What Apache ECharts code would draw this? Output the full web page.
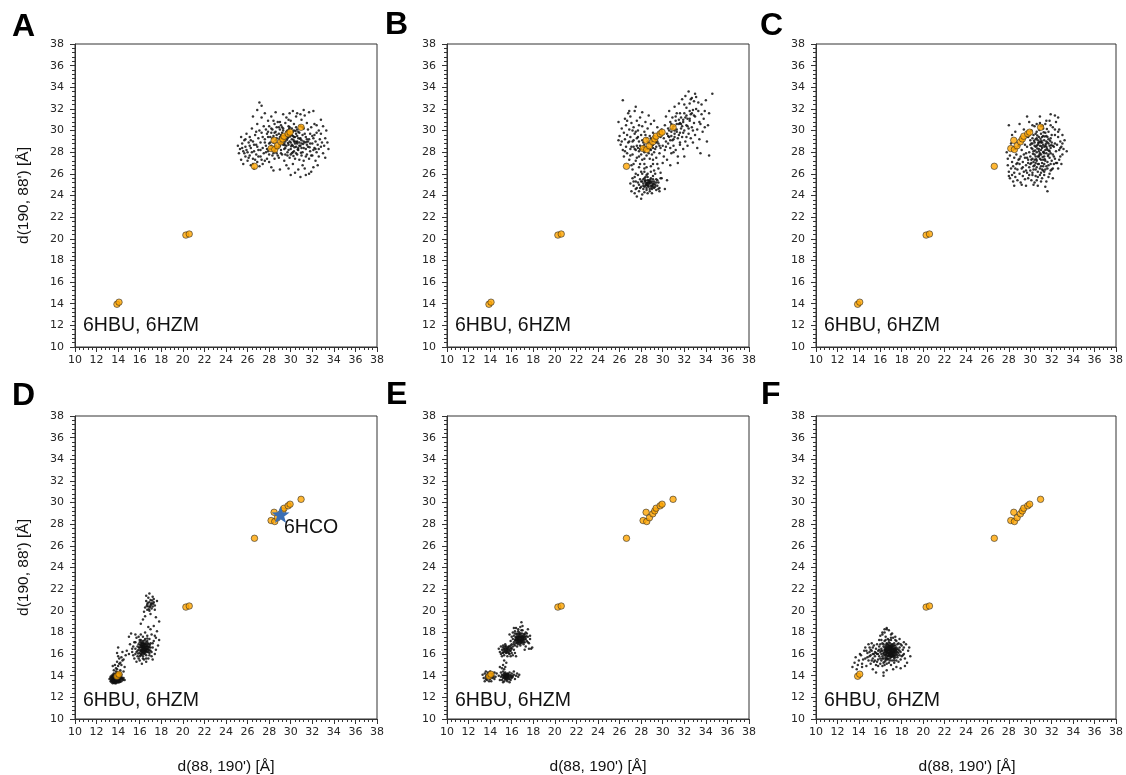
<!DOCTYPE html>
<html><head><meta charset="utf-8">
<script src="https://cdn.jsdelivr.net/npm/echarts@6/dist/echarts.min.js"></script>
<style>html,body{margin:0;padding:0;background:#fff}#c{width:1126px;height:775px}</style>
</head><body><div id="c"></div>
<script>
const panelLetters = ['A','B','C','D','E','F'];
const axisMin = 10, axisMax = 38, axisStep = 2;
const pdbLabel = '6HBU, 6HZM';
const hcoLabel = '6HCO';
const xTitle = "d(88, 190') [Å]";
const yTitle = "d(190, 88') [Å]";

// reference crystal structures (orange), identical in every panel
const refStructures = [[13.89,13.95],[14.08,14.14],[20.28,20.34],[20.59,20.44],[26.64,26.7],
  [28.18,28.34],[28.52,28.25],[28.46,29.1],[28.77,28.6],[29.08,28.96],[29.26,29.23],[29.39,29.48],
  [29.76,29.7],[29.94,29.85],[30.96,30.3]];
// 6HCO (blue star, panel D)
const hcoPoint = [[29.06,28.9]];

const cloudA = [[25.1,28.6],[25.2,27.9],[25.3,28.3],[25.4,29.4],[25.4,27.3],[25.5,28.8],[25.6,28.1],[25.6,26.9],[25.7,29.1],[25.8,27.6],[25.8,28.5],[25.9,29.7],[26.0,28.0],[26.0,27.2],[26.1,28.9],[26.2,27.7],[26.2,29.4],[26.3,26.8],[26.3,28.4],[26.4,30.2],[26.5,27.4],[26.5,29.0],[26.6,28.1],[26.6,26.5],[26.7,29.6],[26.8,27.8],[26.8,28.7],[26.9,30.6],[26.9,27.1],[27.0,29.3],[27.0,28.2],[27.1,26.7],[27.1,30.0],[27.2,27.6],[27.2,28.9],[27.3,29.8],[27.3,31.2],[27.4,26.9],[27.4,28.4],[27.5,27.9],[27.5,30.4],
[26.9,31.9],[27.1,32.6],[27.3,32.3],[27.6,31.6],[26.5,31.3],[28.2,31.3],[27.9,30.9],
[27.6,29.2],[27.7,28.6],[27.7,30.1],[27.8,27.4],[27.8,29.7],[27.9,28.1],[27.9,29.9],[28.0,28.8],[28.0,27.1],[28.0,30.4],[28.1,29.4],[28.1,28.3],[28.2,26.6],[28.2,29.8],[28.3,27.7],[28.3,30.1],[28.4,28.9],[28.4,29.5],[28.5,27.4],[28.5,30.6],
[28.6,29.9],[28.6,28.6],[28.7,30.3],[28.7,29.3],[28.7,27.9],[28.8,28.4],[28.8,30.8],[28.9,29.7],[28.9,27.5],[29.0,30.1],[29.0,28.9],[29.0,29.4],[29.1,28.2],[29.1,30.5],[29.2,29.8],[29.2,27.8],[29.3,28.7],[29.3,30.2],[29.4,29.1],[29.4,27.2],[29.5,30.7],[29.5,28.4],[29.5,29.6],[29.6,31.2],[29.6,26.8],
[29.7,29.3],[29.7,28.0],[29.7,30.0],[29.8,28.7],[29.8,30.4],[29.9,29.0],[29.9,27.5],[29.9,31.6],[30.0,29.6],[30.0,28.3],[30.0,30.9],[30.1,29.2],[30.1,27.9],[30.1,30.2],[30.2,28.6],[30.2,29.9],[30.2,26.9],[30.3,29.4],[30.3,28.1],[30.3,30.6],[30.4,27.4],[30.4,29.0],[30.5,28.5],[30.5,29.7],[30.5,31.3],
[30.6,28.8],[30.6,27.8],[30.6,30.1],[30.7,29.3],[30.7,26.4],[30.7,28.2],[30.8,29.8],[30.8,27.3],[30.9,28.6],[30.9,30.4],[30.9,25.7],[31.0,29.1],[31.0,27.7],[31.0,31.0],[31.1,28.0],[31.1,29.6],[31.2,30.2],[31.2,27.2],[31.3,28.9],[31.3,26.5],[31.4,29.4],[31.4,28.3],[31.5,30.7],[31.5,27.8],
[31.6,29.0],[31.6,28.5],[31.7,31.7],[31.7,27.4],[31.8,29.7],[31.8,28.1],[31.9,30.3],[31.9,26.2],[32.0,28.8],[32.0,27.7],[32.1,29.3],[32.1,31.8],[32.2,28.4],[32.2,30.6],[32.3,27.2],[32.3,29.0],[32.4,28.0],[32.4,29.8],[32.5,28.7],[32.6,30.0],[32.6,27.6],[32.7,29.2],[32.8,28.5],[32.9,28.9],[33.0,27.9],[33.1,28.6],[33.2,29.3],[33.4,28.9],[33.0,30.4],[32.5,26.8],
[29.2,29.2],[29.4,28.8],[29.6,29.9],[29.8,29.4],[30.0,28.9],[30.2,29.5],[30.4,28.8],[30.6,29.5],[30.8,28.9],[29.5,29.0],[29.9,29.8],[30.3,29.0],[28.9,28.5],[29.1,29.6],[30.7,28.4],[31.0,28.4],[30.1,28.7],[29.3,30.0],[28.6,29.1],[30.5,30.3],[28.2,28.6],[27.7,28.0],[28.5,28.1],[29.7,27.7],[31.2,29.0],[31.5,29.2],[29.0,30.8],[28.4,30.9],[29.8,31.0],[30.9,31.5],[31.3,31.4],
[27.6,28.9],[27.8,28.3],[27.9,29.4],[28.0,27.8],[28.1,28.9],[28.2,30.2],[28.3,29.3],[28.4,27.9],[28.5,29.8],[28.6,28.3],[28.7,29.6],[28.8,27.7],[28.9,30.3],[29.0,28.6],[29.1,27.9],[29.2,30.3],[29.3,29.5],[29.4,28.3],[29.5,27.8],[29.6,28.6],[29.7,29.6],[29.8,28.2],[29.9,30.3],[30.0,27.8],[30.1,29.6],[30.2,28.0],[30.3,30.0],[30.4,29.4],[30.5,27.9],[30.6,29.0],[30.7,29.9],[30.8,28.6],[30.9,29.3],[31.0,28.8],[31.1,30.3],[31.2,28.4],[31.3,29.7],[31.4,27.6],[31.5,28.7],[31.6,30.1],[31.7,29.2],[31.8,28.8],[31.9,27.7],[32.0,29.5],[32.1,28.2],[32.2,29.6],[32.3,28.3],[32.4,30.5],[32.6,28.3],[32.8,29.7],
[29.35,29.35],[29.65,29.15],[29.95,29.45],[30.25,29.15],[30.55,28.95],[30.85,29.25],[29.45,28.65],[29.75,28.85],[30.05,28.55],[30.35,28.45],[30.65,28.25],[29.15,28.85],[29.85,30.15],[30.45,29.95],[28.95,29.25],[31.15,28.75],[31.45,28.95],[31.75,28.45],[30.95,27.95],[30.25,27.65],
[25.5,28.4],[25.7,27.9],[25.9,28.2],[26.1,27.5],[26.3,29.1],[26.4,28.0],[26.6,28.7],[26.7,27.3],[26.9,28.5],[27.0,27.6],[27.2,28.2],[27.3,27.3],[27.4,29.4],[26.2,28.6],[25.8,29.2],[26.8,29.9],[27.6,27.2],[26.5,26.9],
[28.4,26.3],[29.0,26.4],[29.8,26.5],[30.4,26.1],[31.1,26.8],[31.7,26.0],[32.1,26.6],[30.0,25.9],[31.4,25.9],[29.3,31.5],[30.2,31.8],[31.2,31.9],[30.6,31.6],[28.6,31.7],[32.8,31.0],[33.3,30.0],[33.5,28.3],[33.2,27.5]];

const cloudB = [[25.9,30.8],[25.9,29.1],[26.0,29.5],[26.1,28.7],[26.2,30.2],[26.3,32.8],[26.3,28.2],[26.4,29.8],[26.4,27.6],[26.5,31.1],[26.5,29.2],[26.6,28.5],[26.6,30.5],[26.7,27.9],[26.7,29.6],[26.8,31.6],[26.8,28.9],[26.9,30.1],[26.9,27.3],[27.0,29.4],[27.0,28.3],[27.0,31.3],[27.1,30.7],[27.1,26.8],[27.2,29.0],[27.2,27.8],[27.3,30.3],[27.3,28.5],[27.4,31.8],[27.4,29.7],[27.5,28.2],[27.5,27.2],[27.6,30.9],[27.6,29.3],[27.7,28.4],[27.7,30.0],[27.8,27.6],[27.8,29.0],[27.9,28.3],[27.9,31.2],[28.0,29.6],[28.0,28.3],[28.1,30.4],[28.1,27.3],[28.2,28.9],[28.2,28.2],[28.3,29.9],[28.3,26.9],[28.4,28.4],[28.4,30.8],[28.5,29.3],[28.5,27.7],[28.6,28.3],[28.6,30.2],[28.7,28.8],[28.7,31.4],[28.8,27.4],[28.8,29.5],[28.9,28.2],[28.9,30.6],[29.0,29.0],[29.0,27.8],[29.1,28.4],[29.1,29.8],[29.2,30.9],[29.2,28.0],[29.3,29.2],[29.4,27.5],[29.4,28.5],[29.5,30.3],[29.6,28.8],[29.6,29.7],[29.7,27.9],[29.8,28.4],[29.9,30.1],
[27.4,28.3],[27.6,28.6],[27.9,28.6],[28.2,28.5],[28.5,28.4],[28.8,28.3],[29.1,28.7],[29.4,28.9],[28.3,28.0],[27.8,28.1],
[30.0,28.6],[30.1,29.3],[30.1,27.6],[30.2,30.5],[30.2,28.2],[30.3,29.0],[30.3,31.3],[30.4,29.7],[30.4,27.3],[30.5,28.8],[30.5,30.2],[30.6,31.8],[30.6,29.4],[30.7,28.4],[30.7,30.8],[30.8,29.9],[30.8,27.9],[30.9,31.2],[30.9,29.1],[31.0,30.4],[31.0,28.6],[31.1,32.2],[31.1,29.7],[31.2,30.9],[31.2,28.2],[31.3,30.1],[31.3,31.6],[31.4,29.3],[31.4,27.6],[31.5,30.6],[31.5,32.5],[31.6,29.8],[31.6,28.7],[31.7,31.2],[31.7,30.2],[31.8,32.9],[31.8,29.4],[31.9,30.8],[31.9,28.3],[32.0,31.6],[32.0,30.0],[32.1,33.2],[32.1,29.0],[32.2,30.5],[32.2,32.1],[32.3,31.1],[32.3,28.6],[32.4,29.7],[32.4,33.6],[32.5,30.9],[32.5,32.5],[32.6,31.5],[32.6,29.3],[32.7,33.0],[32.7,30.3],[32.8,31.9],[32.8,28.9],[32.9,30.7],[32.9,32.7],[33.0,29.6],[33.0,31.3],[33.1,33.1],[33.2,30.1],[33.2,28.4],[33.3,31.8],[33.4,29.2],[33.5,30.6],[33.6,32.4],[33.7,29.9],[33.8,31.1],[33.9,30.3],[34.0,32.8],[34.1,29.0],[34.3,27.7],[34.3,31.6],[34.6,33.4],[32.0,27.6],[31.4,27.0],[30.7,26.8],[33.5,27.9],
[30.8,29.5],[31.1,30.0],[31.3,30.6],[31.6,30.7],[31.9,31.0],[32.2,31.4],[32.5,31.8],[31.0,29.2],[31.8,30.4],[32.4,30.2],[31.5,31.0],[30.6,30.0],
[27.2,26.4],[27.5,26.0],[27.8,26.6],[28.0,26.2],[28.3,26.5],[28.6,26.0],[28.9,26.7],[29.2,26.3],[29.5,26.9],[29.8,26.1],[27.4,25.7],[29.9,25.6],[30.4,25.4],[30.2,24.6],[29.7,24.4],
[27.0,25.1],[27.1,24.4],[27.2,25.6],[27.3,24.9],[27.4,24.2],[27.5,25.3],[27.6,24.7],[27.7,25.9],[27.8,25.0],[27.8,24.4],[27.9,25.5],[28.0,23.7],[28.0,24.8],[28.1,25.3],[28.1,26.0],[28.2,24.6],[28.2,25.1],[28.3,25.6],[28.3,24.3],[28.4,24.9],[28.4,25.4],[28.5,25.0],[28.5,24.5],[28.6,25.7],[28.6,25.2],[28.7,24.8],[28.7,25.4],[28.8,24.4],[28.8,25.1],[28.9,25.6],[28.9,24.9],[29.0,25.3],[29.0,24.6],[29.1,25.0],[29.1,25.8],[29.2,24.7],[29.2,25.3],[29.3,25.0],[29.4,24.5],[29.4,25.5],[29.5,24.9],[29.6,25.2],[29.7,24.7],[29.8,25.6],[28.5,25.9],[28.3,26.2],[28.9,26.2],[29.3,26.0],[28.6,24.2],[28.1,24.1],[27.6,23.9],[29.0,24.2],[28.4,25.2],[28.8,25.3],[28.6,24.9],[28.2,24.9],[29.1,24.8],
[26.2,29.0],[26.5,28.1],[26.7,30.9],[26.9,29.0],[27.1,28.5],[27.2,30.0],[27.3,29.1],[27.5,29.9],[27.7,29.4],[27.8,30.5],[28.0,27.8],[28.1,29.1],[28.3,28.7],[28.4,29.6],[28.6,29.0],[28.7,27.9],[28.9,29.3],[29.0,28.6],[29.2,29.5],[29.3,28.3],[29.5,29.0],[29.7,28.6],[29.8,29.4],[27.0,27.7],[27.6,27.5],[28.3,27.4],[29.1,27.3],[26.9,31.8],[27.5,32.2],[28.1,31.7],
[30.3,28.5],[30.5,29.5],[30.7,29.1],[30.9,30.2],[31.1,29.4],[31.3,29.9],[31.5,29.6],[31.7,30.6],[31.9,29.8],[32.1,31.2],[32.3,30.4],[32.5,31.1],[32.7,31.6],[32.9,31.4],[33.1,32.0],[33.3,32.6],[33.4,30.8],[32.0,32.4],[31.6,31.6],[31.2,31.3],[30.8,30.6],[32.6,32.9],[33.0,33.4],[32.8,30.0],[32.2,29.4],[31.6,28.9],[31.0,28.0],[33.6,31.5],[33.9,31.8],[34.2,30.5],
[27.3,25.3],[27.5,24.6],[27.7,25.2],[27.9,24.7],[28.0,25.3],[28.2,25.5],[28.3,24.8],[28.4,25.7],[28.5,24.7],[28.6,25.4],[28.7,25.1],[28.8,24.6],[28.9,25.2],[29.0,24.9],[29.1,25.5],[29.2,25.1],[29.3,24.8],[29.4,25.2],[29.5,25.4],[29.6,24.6],[28.55,25.15],[28.75,25.25],[28.45,25.05],[28.65,24.95],[28.85,25.45],[28.35,25.35],[29.05,25.1],[28.95,24.75],
[27.9,26.9],[28.5,26.6],[29.1,26.9],[29.6,26.5],[30.0,27.0],[27.3,26.9]];

const cloudC = [[27.8,28.0],[27.9,27.4],[27.9,26.8],[28.0,30.5],[28.0,26.2],[28.1,27.7],[28.1,25.6],[28.2,26.5],[28.2,28.8],[28.3,27.1],[28.3,25.9],[28.4,26.7],[28.4,25.3],[28.5,27.5],[28.5,26.1],[28.6,28.3],[28.6,25.7],[28.7,26.9],[28.7,27.8],[28.8,25.4],[28.8,26.4],[28.9,27.3],[28.9,28.6],[29.0,26.0],[29.0,26.9],[29.1,25.2],[29.1,27.6],[29.2,26.5],[29.2,28.2],[29.3,25.8],[29.3,27.1],[29.4,26.2],[29.4,30.1],[29.5,27.5],[29.5,25.5],[29.5,28.7],[28.3,29.6],[28.6,29.9],[29.0,30.6],[28.0,25.8],[28.5,24.9],[29.2,25.0],[29.6,24.9],[29.7,31.3],[29.9,30.8],
[29.6,26.8],[29.6,27.9],[29.7,26.1],[29.7,28.5],[29.8,27.3],[29.8,29.4],[29.8,25.6],[29.9,26.6],[29.9,28.0],[30.0,27.6],[30.0,29.1],[30.0,26.3],[30.1,28.4],[30.1,30.0],[30.1,27.0],[30.2,25.9],[30.2,28.8],[30.2,27.4],[30.3,29.6],[30.3,26.7],[30.3,28.1],[30.4,27.8],[30.4,30.4],[30.4,25.2],[30.5,28.5],[30.5,26.4],[30.5,29.2],[30.6,27.2],[30.6,28.0],[30.6,29.9],[30.7,26.9],[30.7,28.7],[30.7,25.7],[30.8,27.6],[30.8,29.4],[30.8,28.3],[30.9,26.5],[30.9,30.7],[30.9,27.9],[31.0,28.9],[31.0,26.1],[31.0,27.3],[31.0,29.7],[31.1,28.4],[31.1,25.6],[31.1,27.0],[31.2,28.0],[31.2,30.2],[31.2,26.7],[31.3,29.1],[31.3,27.6],[31.3,25.9],[31.4,28.6],[31.4,26.4],[31.4,30.6],[31.5,27.9],[31.5,29.5],[31.5,25.3],[31.6,28.2],[31.6,27.1],[31.6,24.4],[31.7,29.9],[31.7,26.8],[31.7,28.8],[31.8,27.5],[31.8,30.9],[31.8,26.0],[31.9,28.4],[31.9,29.3],[32.0,27.2],[32.0,28.9],[32.0,26.4],[32.1,30.3],[32.1,27.8],[32.2,28.5],[32.2,26.9],[32.3,29.6],[32.3,27.4],[32.4,28.1],[32.4,30.8],
[30.2,28.3],[30.4,28.9],[30.6,28.6],[30.8,28.9],[31.0,28.2],[31.2,28.7],[31.4,28.2],[31.6,28.9],[30.5,27.6],[30.9,27.4],[31.3,27.9],[31.7,27.8],[30.7,29.1],[31.1,29.4],[31.5,29.0],[30.3,27.1],[30.8,26.9],[31.2,27.3],[31.9,27.9],[30.1,28.8],[30.9,28.6],[31.3,28.5],[31.6,29.4],[30.5,29.7],[30.4,27.3],[31.8,28.6],[31.0,27.8],[31.4,27.2],[30.6,26.6],[31.2,26.3],
[32.5,28.7],[32.5,27.0],[32.6,29.4],[32.6,26.5],[32.7,28.2],[32.7,30.1],[32.8,27.6],[32.8,29.0],[32.9,28.5],[32.9,26.9],[33.0,29.6],[33.0,27.8],[33.1,28.3],[33.2,29.1],[33.4,28.1],[32.6,31.2],[32.3,31.4],[31.9,31.5],[32.1,25.6],[31.4,24.8],[30.7,24.9],[30.9,31.3],
[30.0,28.7],[30.1,27.3],[30.2,29.3],[30.3,26.4],[30.4,28.6],[30.5,27.0],[30.6,29.3],[30.7,27.6],[30.8,28.1],[30.9,29.0],[31.0,26.7],[31.1,28.9],[31.2,29.5],[31.3,26.9],[31.4,29.8],[31.5,28.5],[31.6,26.5],[31.7,29.2],[31.8,28.1],[31.9,26.9],[32.0,29.6],[32.1,28.6],[32.2,27.6],[32.3,28.8],[32.4,27.0],
[30.65,28.35],[30.85,27.75],[31.05,28.55],[31.25,28.05],[31.45,28.75],[31.65,27.65],[30.75,28.85],[30.95,29.25],[31.15,27.55],[31.35,27.35],[31.55,28.35],[31.75,28.15],[30.45,28.15],[30.55,27.35],[31.05,29.05],[31.85,29.05],[31.35,29.45],[30.35,29.05],[30.25,27.85],[31.95,28.65],[30.65,29.55],[31.25,29.85],[31.55,30.15],[30.85,30.05],[31.15,30.45],
[29.6,26.3],[29.8,27.0],[29.9,25.9],[30.0,26.9],[30.2,26.1],[30.4,26.8],[30.5,25.8],[30.7,26.2],[30.9,25.9],[31.1,26.4],[31.3,26.2],[31.5,26.7],[31.7,25.7],[31.9,26.3],[32.1,26.5],[29.3,26.6],[29.0,27.4],[28.8,27.0],[28.6,26.5],[29.4,27.8],[29.7,27.5],[30.1,25.4],[30.6,25.4],[31.0,25.3],[30.3,25.0],
[30.2,30.5],[30.6,30.6],[31.0,30.4],[31.5,30.9],[31.9,30.5],[32.3,30.1],[32.6,29.9],[32.8,28.4],[33.0,28.8],[32.7,27.3]];

const cloudD = [[13.2,13.7],[13.3,13.5],[13.3,13.9],[13.4,13.4],[13.4,13.7],[13.4,14.0],[13.5,13.3],[13.5,13.6],[13.5,13.8],[13.5,14.1],[13.6,13.4],[13.6,13.7],[13.6,13.9],[13.6,14.2],[13.7,13.3],[13.7,13.5],[13.7,13.8],[13.7,14.0],[13.8,13.4],[13.8,13.6],[13.8,13.9],[13.8,14.1],[13.9,13.5],[13.9,13.7],[13.9,14.0],[13.9,14.3],[14.0,13.4],[14.0,13.6],[14.0,13.8],[14.0,14.1],[14.1,13.5],[14.1,13.7],[14.1,13.9],[14.2,13.6],[14.2,13.8],[14.2,14.2],[14.3,13.5],[14.3,13.9],[14.4,13.7],[14.5,13.8],[14.6,13.6],[13.6,13.55],[13.75,13.65],[13.85,13.8],[13.65,13.85],[13.55,13.7],[13.95,13.6],[13.8,13.5],[13.7,13.75],[13.9,13.9],[14.05,13.7],[13.6,13.6],[13.75,13.95],[13.85,13.55],[13.45,13.55],[13.65,14.05],[14.15,13.8],
[13.35,13.6],[13.45,13.85],[13.55,13.45],[13.65,13.65],[13.75,13.55],[13.85,13.75],[13.95,13.8],[14.05,13.55],[13.55,14.0],[13.7,14.15],[13.85,14.2],[14.0,14.2],[14.15,14.05],[14.25,13.7],[14.35,13.8],[13.4,13.5],[13.6,13.35],[13.8,13.3],[13.95,13.4],[14.1,13.4],[14.3,14.1],[14.45,13.6],[13.3,13.8],[14.2,13.45],[13.5,13.95],
[13.6,14.5],[13.8,14.7],[13.7,15.0],[14.0,14.9],[13.9,15.3],[14.2,15.2],[14.1,15.6],[14.3,15.0],[14.0,15.8],[14.4,16.2],[14.3,15.7],[13.9,16.1],[14.5,15.5],[14.6,14.8],[14.2,14.5],[14.0,16.6],[14.7,15.9],[14.8,16.3],[15.0,16.0],[15.3,16.5],[13.5,14.9],[14.5,14.4],[13.8,14.4],[14.1,14.3],[13.9,14.6],[14.1,15.1],[14.4,15.4],[15.6,17.1],[15.1,16.9],
[15.9,16.4],[15.9,16.9],[16.0,16.1],[16.0,16.6],[16.0,17.1],[16.1,15.9],[16.1,16.4],[16.1,16.8],[16.1,17.3],[16.2,16.2],[16.2,16.6],[16.2,17.0],[16.3,15.8],[16.3,16.4],[16.3,16.8],[16.3,17.2],[16.4,16.0],[16.4,16.6],[16.4,17.0],[16.5,16.3],[16.5,16.7],[16.5,17.4],[16.6,15.9],[16.6,16.5],[16.6,16.9],[16.7,16.2],[16.7,16.7],[16.7,17.2],[16.8,16.4],[16.8,16.9],[16.9,16.1],[16.9,16.6],[16.2,16.4],[16.4,16.8],[16.6,16.7],[16.3,16.6],[16.5,16.5],[16.4,16.3],[16.2,16.8],[16.6,17.1],[16.35,16.5],[16.45,16.9],[16.55,16.2],[16.25,16.1],[16.15,16.65],[16.75,16.5],[16.05,16.85],
[15.95,16.6],[16.05,16.3],[16.1,16.0],[16.15,16.95],[16.2,15.95],[16.25,16.55],[16.3,17.0],[16.35,16.2],[16.4,16.45],[16.45,16.65],[16.5,16.05],[16.5,16.9],[16.55,16.6],[16.6,16.35],[16.65,16.8],[16.7,16.45],[16.75,17.0],[16.8,16.2],[16.85,16.7],[16.9,16.35],[16.95,16.85],[16.0,15.8],[16.3,15.6],[16.6,15.6],[16.9,15.9],[17.0,16.6],[17.1,16.2],[17.2,17.0],[16.15,17.15],[16.45,17.25],[16.7,17.45],[16.0,17.3],[15.8,16.7],[15.7,16.2],[15.85,16.05],[16.25,16.35],[16.55,16.45],[16.35,16.75],[16.2,16.7],[16.6,16.3],[16.4,16.15],[16.3,16.95],[16.15,16.25],[16.75,16.65],
[15.3,16.2],[15.4,16.7],[15.5,15.6],[15.5,17.1],[15.6,16.0],[15.6,16.5],[15.7,15.3],[15.7,17.5],[15.8,15.8],[15.8,16.3],[15.9,17.6],[16.0,15.4],[16.1,17.8],[16.2,15.1],[16.3,17.6],[16.4,15.5],[16.5,18.0],[16.6,15.3],[16.7,17.7],[16.8,15.6],[16.9,17.4],[17.0,16.3],[17.0,17.0],[17.1,15.8],[17.1,17.8],[17.2,16.6],[17.3,17.2],[17.4,16.0],[17.5,17.5],[17.6,18.1],[17.0,18.3],[16.8,18.5],[15.0,17.6],[15.2,17.9],[17.3,18.6],[17.7,16.8],[15.9,15.6],[17.2,15.5],[15.4,15.9],[15.6,17.8],[17.4,17.7],[17.8,17.3],[17.5,16.4],
[16.5,20.3],[16.6,20.9],[16.7,20.1],[16.7,20.6],[16.8,21.2],[16.8,20.4],[16.9,20.8],[16.9,20.0],[17.0,20.5],[17.0,21.0],[17.1,20.2],[17.1,20.7],[17.2,21.3],[17.2,20.4],[17.3,20.8],[17.4,20.1],[17.4,20.5],[16.6,21.4],[17.0,19.7],[16.4,19.9],[17.6,20.9],[16.9,21.6],[16.5,19.5],[17.5,19.4],[17.8,19.0],[16.3,19.2],[16.1,18.8],[16.75,20.75],[16.95,20.35],[17.15,20.95],[16.85,20.15],[17.05,20.6],[16.65,20.45],[17.25,20.65],[17.3,21.1]];

const cloudE = [[13.4,13.8],[13.5,14.2],[13.5,13.5],[13.6,13.9],[13.6,14.4],[13.7,13.6],[13.7,14.1],[13.8,13.8],[13.8,14.3],[13.9,13.5],[13.9,14.0],[14.0,13.7],[14.0,14.4],[14.1,13.9],[14.1,13.5],[14.2,14.2],[14.2,13.8],[14.3,14.0],[14.4,13.7],[14.4,14.3],[14.5,13.9],[13.6,13.7],[13.8,14.0],[14.0,14.1],[14.6,14.2],[13.3,14.1],[14.8,14.0],[14.9,13.6],[13.75,13.85],[13.95,13.75],[14.15,14.0],[13.65,14.0],[13.85,14.15],[14.3,13.85],
[15.0,13.9],[15.0,14.3],[15.1,13.6],[15.1,14.1],[15.2,13.8],[15.2,14.4],[15.3,13.5],[15.3,14.0],[15.3,14.2],[15.4,13.7],[15.4,13.9],[15.4,14.3],[15.5,13.6],[15.5,14.0],[15.5,14.1],[15.6,13.8],[15.6,14.2],[15.6,13.5],[15.7,13.9],[15.7,14.1],[15.8,13.7],[15.8,14.3],[15.9,14.0],[15.9,13.6],[16.0,13.8],[16.0,14.2],[16.1,13.9],[16.2,14.1],[16.3,13.7],[16.4,14.0],[16.5,14.2],[16.6,13.9],[16.7,14.1],[15.45,13.85],[15.55,14.05],[15.35,13.95],[15.65,14.0],[15.5,13.8],[15.4,14.1],[15.6,13.95],[15.25,14.1],[15.75,13.85],[15.3,15.4],[15.2,15.0],[15.4,14.8],[15.3,14.6],[15.1,14.7],[15.5,15.2],[14.9,14.8],[16.2,14.4],[15.8,13.4],[15.2,13.4],
[15.35,13.75],[15.45,14.15],[15.55,13.7],[15.65,14.15],[15.7,13.7],[15.85,14.05],[15.95,13.85],[15.3,13.85],[15.6,14.05],[15.5,13.95],[16.05,14.0],[15.15,13.95],
[14.8,16.5],[14.9,16.2],[15.0,16.7],[15.0,16.0],[15.1,16.4],[15.2,16.8],[15.2,16.1],[15.3,16.5],[15.3,15.9],[15.4,16.3],[15.4,16.9],[15.5,16.1],[15.5,16.6],[15.6,16.3],[15.6,15.8],[15.7,16.7],[15.7,16.2],[15.8,16.5],[15.8,16.0],[15.9,16.3],[15.9,16.8],[16.0,16.1],[16.0,16.5],[16.1,15.9],[16.2,16.4],[16.3,16.1],[15.4,16.5],[15.6,16.5],[15.5,16.3],[15.2,16.6],[15.7,16.4],[15.3,16.2],[16.1,16.7],[15.9,15.8],[15.1,15.8],[16.4,15.8],
[15.25,16.35],[15.35,16.7],[15.45,16.15],[15.55,16.45],[15.65,16.6],[15.75,16.05],[15.85,16.3],[15.95,16.55],[15.45,16.75],[15.15,16.15],[15.6,16.15],[15.8,16.7],
[15.9,17.2],[16.0,17.6],[16.0,16.9],[16.1,17.4],[16.1,18.0],[16.2,17.1],[16.2,17.7],[16.3,16.8],[16.3,17.3],[16.3,18.1],[16.4,17.0],[16.4,17.6],[16.5,17.2],[16.5,17.9],[16.5,16.7],[16.6,17.4],[16.6,18.3],[16.6,16.9],[16.7,17.1],[16.7,17.7],[16.7,18.0],[16.8,17.3],[16.8,16.8],[16.8,17.9],[16.9,17.5],[16.9,17.0],[17.0,17.7],[17.0,17.2],[17.0,18.2],[17.1,16.9],[17.1,17.5],[17.2,17.8],[17.2,17.1],[17.3,17.4],[17.3,16.7],[17.4,17.9],[17.4,17.2],[17.5,17.6],[17.6,17.0],[17.7,17.4],[16.5,17.5],[16.6,17.6],[16.7,17.4],[16.8,17.6],[16.9,17.7],[16.6,17.1],[16.9,17.3],[16.4,17.3],[17.1,17.3],[16.75,17.55],[16.55,17.35],[16.85,17.15],[16.45,17.8],[17.05,17.45],[16.65,17.85],[16.35,17.5],[16.95,17.9],[17.15,17.65],[16.8,18.5],[16.4,18.4],[17.0,18.6],[16.9,18.95],[17.5,18.3],[17.8,16.5],[17.9,16.6],[17.6,16.5],[17.2,16.4],[15.8,17.8],[16.2,18.4],
[16.5,17.05],[16.6,17.3],[16.7,17.55],[16.8,17.2],[16.9,17.55],[17.0,17.35],[17.1,17.1],[17.2,17.35],[16.55,17.65],[16.75,17.8],[16.95,17.1],[17.05,17.6],[16.45,17.45],[16.85,17.4],[16.65,17.25],[17.25,17.55],[16.35,17.2],[17.35,17.65],[16.75,16.95],[17.15,17.85],[16.6,18.1],[16.9,18.2],[17.3,18.0],[17.5,17.1],[17.7,17.7],[16.2,16.9],[16.3,17.9]];

const cloudF = [[13.4,14.8],[13.6,15.2],[13.8,14.6],[14.0,15.4],[14.2,15.9],[14.3,15.1],[14.5,16.3],[14.6,15.6],[14.7,14.9],[14.8,16.1],[14.9,15.4],[15.0,16.6],[15.0,15.8],[15.1,15.1],[15.2,16.3],[15.2,17.0],[15.3,15.6],[15.3,16.0],[15.4,16.8],[15.4,15.3],[15.5,16.2],[15.5,15.8],[15.6,16.5],[15.6,15.0],[15.7,16.0],[15.7,16.9],[15.8,15.5],[15.8,16.3],[15.9,15.8],[15.9,16.7],[14.4,15.5],[14.1,16.0],[14.9,16.9],[15.1,16.4],[14.6,16.6],[13.9,15.0],[15.3,14.6],[15.6,14.3],[16.3,14.0],
[15.0,16.2],[15.2,15.4],[15.4,16.0],[15.6,16.1],[15.8,16.0],[15.5,15.4],[14.8,15.7],[15.1,15.9],[15.7,15.3],[15.9,16.4],[14.7,16.3],[15.3,16.6],[14.3,14.8],[13.7,15.7],
[16.0,15.1],[16.0,15.6],[16.0,16.2],[16.0,16.9],[16.1,15.4],[16.1,16.0],[16.1,16.5],[16.1,17.3],[16.2,14.9],[16.2,15.8],[16.2,16.3],[16.2,17.0],[16.3,15.2],[16.3,15.6],[16.3,16.1],[16.3,16.7],[16.4,15.0],[16.4,15.9],[16.4,16.4],[16.4,17.2],[16.5,15.4],[16.5,15.7],[16.5,16.2],[16.5,16.8],[16.6,15.1],[16.6,16.0],[16.6,16.5],[16.6,17.0],[16.7,15.5],[16.7,15.8],[16.7,16.3],[16.7,16.9],[16.7,17.4],[16.8,15.2],[16.8,16.1],[16.8,16.6],[16.8,17.1],[16.9,15.6],[16.9,15.9],[16.9,16.4],[16.9,16.8],[17.0,15.0],[17.0,15.7],[17.0,16.2],[17.0,16.6],[17.0,17.3],[17.1,15.4],[17.1,16.0],[17.1,16.4],[17.1,16.9],[17.2,15.8],[17.2,16.2],[17.2,16.7],[17.2,17.5],[17.3,15.2],[17.3,15.6],[17.3,16.1],[17.3,16.5],[17.3,17.0],[17.4,15.9],[17.4,16.3],[17.4,16.8],[17.5,15.4],[17.5,16.0],[17.5,16.6],[17.5,17.2],[17.6,15.7],[17.6,16.2],[17.6,16.9],[17.7,15.3],[17.7,16.4],[17.7,17.0],[17.8,15.9],[17.8,16.6],[17.9,16.2],[17.9,15.5],[18.0,16.8],[18.0,15.8],[18.1,16.4],[18.2,16.0],[18.2,17.1],[18.3,15.6],
[16.6,16.2],[16.8,16.4],[17.0,16.0],[17.2,16.4],[16.9,16.1],[17.1,16.2],[16.7,16.6],[17.3,15.9],[16.9,16.6],[16.5,16.0],[17.1,15.8],[16.8,15.9],[17.0,16.4],[16.6,16.7],[17.2,16.0],[16.9,15.8],[17.4,16.1],[16.7,16.1],[17.0,16.8],[16.8,16.8],[17.3,16.3],[16.4,16.2],[17.1,16.6],[16.6,15.6],[17.5,16.4],[16.5,16.5],
[16.3,16.0],[16.4,16.6],[16.5,15.9],[16.5,16.4],[16.6,16.3],[16.6,16.9],[16.7,15.6],[16.7,16.4],[16.8,16.0],[16.8,16.5],[16.9,16.2],[16.9,17.0],[17.0,15.9],[17.0,16.3],[17.0,16.5],[17.1,16.1],[17.1,16.7],[17.2,15.9],[17.2,16.5],[17.3,16.2],[17.3,16.8],[17.4,15.7],[17.4,16.5],[17.5,16.2],[17.6,16.5],[17.7,16.1],[16.65,16.15],[16.85,16.25],[17.05,16.15],[17.25,16.3],[16.75,16.45],[16.95,16.45],[17.15,16.45],[16.85,15.85],[17.05,15.75],[16.55,16.6],[17.35,16.55],[16.95,16.7],[16.75,16.75],[17.15,16.85],[16.45,16.35],[16.65,15.85],[17.45,16.35],[17.25,15.75],[16.5,15.55],[16.9,15.4],[17.3,15.4],[17.6,15.9],[17.8,16.3],[17.9,16.9],[16.3,16.9],[16.1,16.3],[16.2,15.6],[16.4,15.3],[16.8,17.3],[17.4,17.3],[17.0,17.5],[16.5,17.3],[18.1,15.9],[18.2,16.6],
[16.2,18.0],[16.4,18.3],[16.6,18.4],[16.8,18.2],[17.1,17.9],[17.4,17.6],[16.0,17.7],[17.8,17.4],[18.4,16.9],[18.6,16.3],[18.8,15.8],[18.5,15.2],[18.3,14.9],[17.9,14.7],[17.5,14.8],[17.2,14.6],[16.6,14.5],[16.3,14.3],[15.8,14.9],[18.7,16.6],[17.0,17.8],[16.5,17.6],[15.9,17.3],[16.6,18.3],[16.4,18.0],[16.2,17.8]];

const clouds = [cloudA, cloudB, cloudC, cloudD, cloudE, cloudF];

// layout
const colLeft = [75, 447, 816];
const rowTop = [44, 416];
const PW = 302, PH = 303;
const axisColor = '#333';
const tickColor = '#262626';

const grids = [], xAxes = [], yAxes = [], series = [], graphics = [];
for (let i = 0; i < 6; i++) {
  const c = i % 3, r = Math.floor(i / 3);
  grids.push({ left: colLeft[c], top: rowTop[r], width: PW, height: PH, show: true,
    borderColor: axisColor, borderWidth: 1, backgroundColor: 'transparent', containLabel: false });
  const ax = {
    gridIndex: i, type: 'value', min: axisMin, max: axisMax, interval: axisStep,
    axisLine: { show: true, onZero: false, lineStyle: { color: axisColor, width: 1 } },
    axisTick: { show: true, inside: false, length: 5, lineStyle: { color: axisColor, width: 1 } },
    minorTick: { show: true, splitNumber: 5, length: 3, lineStyle: { color: axisColor, width: 1 } },
    splitLine: { show: false }, minorSplitLine: { show: false },
    axisLabel: { color: tickColor, fontSize: 11, fontFamily: 'DejaVu Sans', showMinLabel: true, showMaxLabel: true }
  };
  xAxes.push(Object.assign({}, ax, { axisLabel: Object.assign({}, ax.axisLabel, { margin: 8 }) }));
  yAxes.push(Object.assign({}, ax, { axisLabel: Object.assign({}, ax.axisLabel, { margin: 11 }) }));

  series.push({ type: 'scatter', xAxisIndex: i, yAxisIndex: i, data: clouds[i], symbol: 'circle',
    symbolSize: 2.5, itemStyle: { color: '#111', opacity: 0.85 }, silent: true, z: 2, animation: false });
  series.push({ type: 'scatter', xAxisIndex: i, yAxisIndex: i, data: refStructures, symbol: 'circle',
    symbolSize: 6.5, itemStyle: { color: '#FFA500', borderColor: '#222', borderWidth: 0.7 }, silent: true, z: 3, animation: false });

  graphics.push({ type: 'text', x: colLeft[c] + 8, y: (r === 0 ? 326 : 701),
    style: { text: pdbLabel, font: '19.5px "Liberation Sans", Arial, sans-serif', fill: '#111',
      textAlign: 'left', textVerticalAlign: 'middle', align: 'left', verticalAlign: 'middle' } });
}
series.push({ type: 'scatter', xAxisIndex: 3, yAxisIndex: 3, data: hcoPoint,
  symbol: 'path://M0,-10L2.35,-3.24L9.51,-3.09L3.8,1.24L5.88,8.09L0,4L-5.88,8.09L-3.8,1.24L-9.51,-3.09L-2.35,-3.24Z',
  symbolSize: 18, symbolKeepAspect: true, itemStyle: { color: '#3a6eb5', opacity: 1 }, silent: true, z: 10, zlevel: 0, animation: false });

graphics.push({ type: 'text', x: 284, y: 528,
  style: { text: hcoLabel, font: '19.5px "Liberation Sans", Arial, sans-serif', fill: '#111',
    textAlign: 'left', textVerticalAlign: 'middle', align: 'left', verticalAlign: 'middle' } });

const letterPos = [[12, 27], [385, 25], [760, 26], [12, 396.5], [386, 395], [761, 395]];
panelLetters.forEach((L, i) => {
  graphics.push({ type: 'text', x: letterPos[i][0], y: letterPos[i][1],
    style: { text: L, font: 'bold 32px "Liberation Sans", Arial, sans-serif', fill: '#000',
      textAlign: 'left', textVerticalAlign: 'middle', align: 'left', verticalAlign: 'middle' } });
});

[0, 3].forEach(i => {
  const r = Math.floor(i / 3);
  graphics.push({ type: 'text', x: 24, y: rowTop[r] + PH / 2, rotation: Math.PI / 2,
    style: { text: yTitle, font: '15.5px "Liberation Sans", Arial, sans-serif', fill: '#111',
      textAlign: 'center', textVerticalAlign: 'middle', align: 'center', verticalAlign: 'middle' } });
});
[0, 1, 2].forEach(c => {
  graphics.push({ type: 'text', x: colLeft[c] + PW / 2, y: 767,
    style: { text: xTitle, font: '15.5px "Liberation Sans", Arial, sans-serif', fill: '#111',
      textAlign: 'center', textVerticalAlign: 'middle', align: 'center', verticalAlign: 'middle' } });
});

const chart = echarts.init(document.getElementById('c'), null, { renderer: 'canvas' });
chart.setOption({
  animation: false,
  backgroundColor: '#fff',
  grid: grids, xAxis: xAxes, yAxis: yAxes, series: series,
  graphic: { elements: graphics }
});
</script></body></html>
